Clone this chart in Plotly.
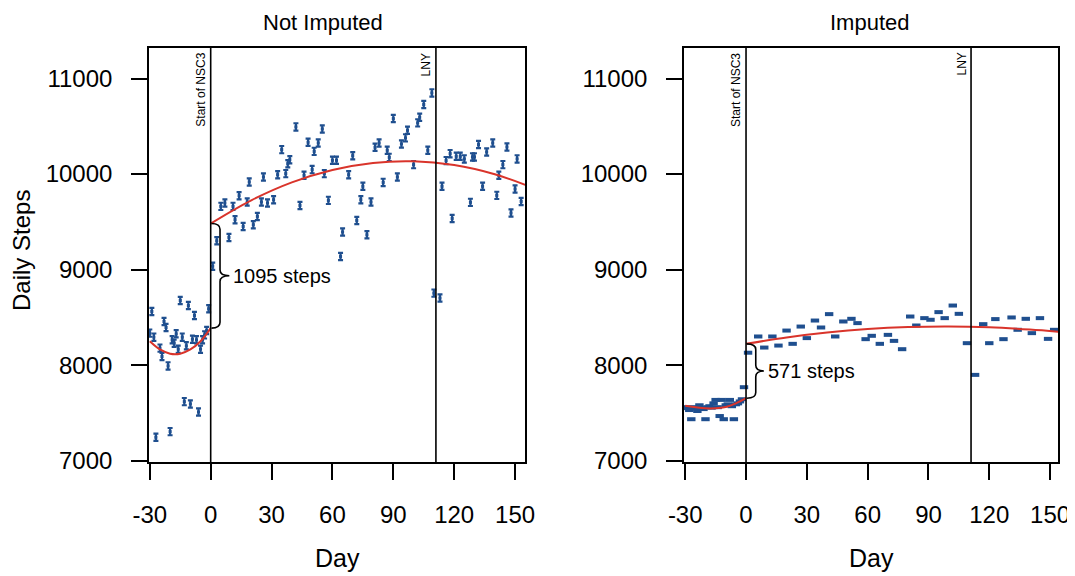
import plotly.graph_objects as go

# ---------------- data ----------------
# Not imputed: daily mean steps
ni_pre_days = [-30, -29, -28, -27, -25, -24, -23, -22, -21, -20, -19, -18, -17, -16, -15,
               -14, -13, -12, -11, -10, -9, -8, -7, -6, -5, -4, -3, -2, -1]
ni_pre_vals = [8335, 8562, 8293, 7245, 8178, 8090, 8457, 8394, 7992, 7304, 8265, 8230, 8328, 8167, 8677,
               8293, 7618, 8202, 8624, 7594, 8272, 8520, 8265, 7510, 8167, 8265, 8317, 8362, 8590]
ni_post_days = [1, 3, 5, 7, 9, 11, 12, 14, 16, 18, 19, 21, 23, 25, 26, 28, 31, 33, 35, 37, 38, 39,
                42, 44, 46, 48, 50, 51, 53, 55, 56, 58, 60, 62, 64, 65, 68, 70, 72, 74, 75, 77,
                79, 81, 83, 85, 87, 88, 90, 92, 94, 96, 97, 100, 102, 103, 105, 107, 109, 110,
                113, 114, 116, 118, 119, 121, 123, 125, 128, 129, 130, 132, 134, 136, 139, 141,
                142, 144, 146, 148, 150, 151, 153]
ni_post_vals = [9036, 9302, 9662, 9698, 9337, 9662, 9523, 9774, 9452, 9708, 9918, 9470, 9557, 9708,
                9970, 9698, 9732, 9994, 10256, 10005, 10109, 10151, 10494, 9672, 9987, 10333, 10047,
                10238, 10326, 10473, 10005, 9725, 10144, 10144, 9138, 9394, 9994, 10193, 9515, 9732,
                9872, 9365, 9708, 10280, 10326, 9913, 10249, 10175, 10581, 9970, 10316, 10379, 10458,
                10099, 10536, 10595, 10728, 10249, 10850, 8754, 8702, 9872, 10141, 10214, 9536, 10186,
                10186, 10159, 9704, 10180, 10180, 10309, 9872, 10232, 10326, 9777, 9987, 10099, 10284,
                9593, 9844, 10159, 9714]

# Imputed: daily mean steps
im_pre_days = [-30, -29, -28, -27, -26, -25, -24, -23, -22, -21, -20, -19, -18, -17, -16, -15,
               -14, -13, -12, -11, -10, -9, -8, -7, -6, -5, -4, -3, -2, -1]
im_pre_vals = [7560, 7550, 7530, 7434, 7560, 7545, 7520, 7580, 7550, 7540, 7434, 7560, 7570, 7555,
               7600, 7636, 7560, 7467, 7636, 7434, 7580, 7590, 7636, 7570, 7434, 7590, 7600, 7620,
               7643, 7769]
im_post_days = [1, 6, 9, 13, 16, 20, 23, 27, 30, 34, 37, 41, 44, 48, 52, 55, 59, 62, 66, 70, 73,
                77, 81, 84, 88, 91, 95, 98, 102, 105, 109, 113, 117, 120, 123, 127, 131, 134, 138,
                141, 145, 149, 152]
im_post_vals = [8130, 8300, 8184, 8300, 8205, 8362, 8223, 8404, 8283, 8467, 8394, 8534, 8300, 8457,
                8485, 8440, 8272, 8307, 8223, 8317, 8254, 8167, 8509, 8415, 8492, 8475, 8555, 8492,
                8624, 8537, 8230, 7898, 8429, 8230, 8482, 8272, 8499, 8370, 8485, 8335, 8492, 8275,
                8370]

# fitted (model) curves, read at sample days
ni_fit_pre_days = [-30, -25, -20, -15, -10, -5, 0]
ni_fit_pre_vals = [8250, 8164, 8120, 8120, 8164, 8250, 8388]
ni_fit_post_days = [0, 20, 40, 60, 80, 100, 120, 140, 155]
ni_fit_post_vals = [9482, 9725, 9913, 10043, 10117, 10134, 10094, 9998, 9888]
im_fit_pre_days = [-30, -20, -15, -10, -5, 0]
im_fit_pre_vals = [7575, 7548, 7548, 7562, 7600, 7654]
im_fit_post_days = [0, 20, 40, 60, 80, 100, 120, 140, 154]
im_fit_post_vals = [8223, 8290, 8341, 8378, 8399, 8405, 8396, 8372, 8350]

event_days = [0, 111]
event_labels = ["Start of NSC3", "LNY"]
jump_labels = ["1095 steps", "571 steps"]
panel_titles = ["Not Imputed", "Imputed"]
x_ticks = [-30, 0, 30, 60, 90, 120, 150]
x_ticktext = ["-30", "0", "30", "60", "90", "120", "150"]
y_ticks = [7000, 8000, 9000, 10000, 11000]
y_ticktext = ["7000", "8000", "9000", "10000", "11000"]

BLUE = "#1f4f8f"
RED = "#d9342b"
FONT = "Liberation Sans, Arial, sans-serif"

# page body has an 8px margin: figure is sized to fit the window
W, H = 1067, 568
OFF = 8

def px(xp):
    return (xp - OFF) / W

fig = go.Figure()

# ---- Not imputed points (I-shaped bars) ----
for d, v in ((ni_pre_days, ni_pre_vals), (ni_post_days, ni_post_vals)):
    fig.add_trace(go.Scatter(
        x=d, y=v, mode="markers", xaxis="x", yaxis="y",
        marker=dict(symbol="square", size=3, color=BLUE),
        error_y=dict(type="constant", value=38, color=BLUE, thickness=2.2, width=2.5),
        showlegend=False, hoverinfo="x+y"))

# ---- Imputed points (short dashes) ----
for d, v in ((im_pre_days, im_pre_vals), (im_post_days, im_post_vals)):
    fig.add_trace(go.Scatter(
        x=d, y=v, mode="markers", xaxis="x2", yaxis="y2",
        marker=dict(symbol="line-ew", size=6, color=BLUE, line=dict(color=BLUE, width=4)),
        showlegend=False, hoverinfo="x+y"))

# ---- fitted curves ----
for xa, ya, d, v in (("x", "y", ni_fit_pre_days, ni_fit_pre_vals),
                     ("x", "y", ni_fit_post_days, ni_fit_post_vals),
                     ("x2", "y2", im_fit_pre_days, im_fit_pre_vals),
                     ("x2", "y2", im_fit_post_days, im_fit_post_vals)):
    fig.add_trace(go.Scatter(x=d, y=v, mode="lines", xaxis=xa, yaxis=ya,
                             line=dict(color=RED, width=2, shape="spline"),
                             showlegend=False, hoverinfo="skip"))

shapes = []
annotations = []

def brace_path(x0, xm, xt, y1, y2, r):
    ym = (y1 + y2) / 2.0
    return (f"M {x0},{y1} Q {xm},{y1} {xm},{y1 - r} L {xm},{ym + r} "
            f"Q {xm},{ym} {xt},{ym} Q {xm},{ym} {xm},{ym - r} "
            f"L {xm},{y2 + r} Q {xm},{y2} {x0},{y2}")

panels = [("x", "y", ni_fit_pre_vals[-1], ni_fit_post_vals[0], 4.6, 9.2, 0),
          ("x2", "y2", im_fit_pre_vals[-1], im_fit_post_vals[0], 4.8, 8.8, 1)]

title_x = [px(323), px(870)]
dayx = [px(337), px(871)]
plot_h = 462 - 48
title_top = (462 - OFF) / plot_h  # paper y of the figure's top edge

for xa, ya, lo, hi, xm, xt, i in panels:
    for ed, el in zip(event_days, event_labels):
        shapes.append(dict(type="line", xref=xa, yref=f"{ya} domain", x0=ed, x1=ed, y0=0, y1=1,
                           line=dict(color="black", width=1.6)))
        annotations.append(dict(text=el, xref=xa, yref=f"{ya} domain", x=ed, y=1,
                                xanchor="right", yanchor="top", textangle=-90, xshift=-1, yshift=-3,
                                showarrow=False, font=dict(family=FONT, size=12, color="black")))
    shapes.append(dict(type="path", xref=xa, yref=ya,
                       path=brace_path(0.4, xm, xt, hi, lo, 60),
                       line=dict(color="black", width=1.6)))
    annotations.append(dict(text=jump_labels[i], xref=xa, yref=ya, x=xt, y=(hi + lo) / 2,
                            xanchor="left", yanchor="middle", xshift=2, showarrow=False,
                            font=dict(family=FONT, size=20, color="black")))
    annotations.append(dict(text=panel_titles[i], xref="paper", yref="paper", x=title_x[i],
                            y=title_top, xanchor="center", yanchor="top", showarrow=False,
                            font=dict(family=FONT, size=22, color="black")))
    annotations.append(dict(text="Day", xref="paper", yref="paper", x=dayx[i],
                            y=(462 - 558) / plot_h, xanchor="center", yanchor="middle", showarrow=False,
                            font=dict(family=FONT, size=25, color="black")))

annotations.append(dict(text="Daily Steps", xref="paper", yref="paper", x=px(22),
                        y=(462 - 251) / plot_h, xanchor="center", yanchor="middle", textangle=-90,
                        showarrow=False, font=dict(family=FONT, size=24, color="black")))

axis_common = dict(showgrid=False, zeroline=False, showline=True, linecolor="black", linewidth=1.6,
                   mirror=True, ticks="outside", ticklen=16, tickwidth=1.6, tickcolor="black",
                   automargin=False, ticklabelstandoff=14,
                   tickfont=dict(family=FONT, size=24, color="black"))

fig.update_layout(
    width=W, height=H,
    margin=dict(l=0, r=0, t=48 - OFF, b=H - (462 - OFF), autoexpand=False),
    paper_bgcolor="white", plot_bgcolor="white",
    xaxis=dict(domain=[px(149), px(525)], range=[-30.4, 154.9], tickvals=x_ticks,
               ticktext=x_ticktext, anchor="y", **axis_common),
    yaxis=dict(domain=[0, 1], range=[6986, 11320], tickvals=y_ticks, ticktext=y_ticktext,
               anchor="x", **axis_common),
    xaxis2=dict(domain=[px(684), px(1058)], range=[-30.6, 153.9], tickvals=x_ticks,
                ticktext=x_ticktext, anchor="y2", **axis_common),
    yaxis2=dict(domain=[0, 1], range=[6986, 11320], tickvals=y_ticks, ticktext=y_ticktext,
                anchor="x2", **axis_common),
    shapes=shapes, annotations=annotations,
    font=dict(family=FONT, color="black"),
)

fig.write_html("out.html")
